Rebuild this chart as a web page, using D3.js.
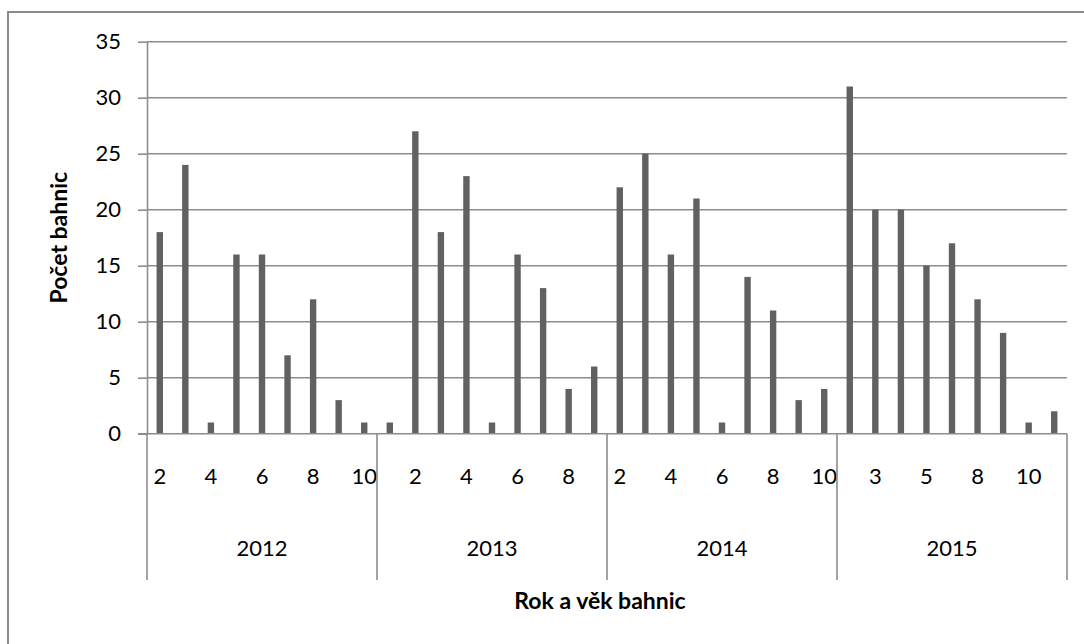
<!DOCTYPE html>
<html>
<head>
<meta charset="utf-8">
<script src="https://cdn.jsdelivr.net/npm/d3@7"></script>
<style>
  html, body { margin: 0; padding: 0; background: #fff; overflow: hidden; }
  svg { display: block; font-family: Lato, "Open Sans", "Noto Sans", sans-serif; }
</style>
</head>
<body>
<svg id="chart" width="1084" height="644"></svg>
<script>
// Počet bahnic podle roku a věku
const years = ["2012", "2013", "2014", "2015"];
const ages2012 = [2, 3, 4, 5, 6, 7, 8, 9, 10];
const ages2013 = [1, 2, 3, 4, 5, 6, 7, 8, 9];
const ages2014 = [2, 3, 4, 5, 6, 7, 8, 9, 10];
const ages2015 = [2, 3, 4, 5, 6, 8, 9, 10, 11];
const counts2012 = [18, 24, 1, 16, 16, 7, 12, 3, 1];
const counts2013 = [1, 27, 18, 23, 1, 16, 13, 4, 6];
const counts2014 = [22, 25, 16, 21, 1, 14, 11, 3, 4];
const counts2015 = [31, 20, 20, 15, 17, 12, 9, 1, 2];
const yTicks = [0, 5, 10, 15, 20, 25, 30, 35];

const agesByYear = [ages2012, ages2013, ages2014, ages2015];
const countsByYear = [counts2012, counts2013, counts2014, counts2015];

const rows = [];
years.forEach((yr, i) => {
  agesByYear[i].forEach((age, j) => {
    rows.push({ key: yr + "-" + age, year: yr, age: age, value: countsByYear[i][j] });
  });
});

const svg = d3.select("#chart");
const plotLeft = 147, plotRight = 1067, plotTop = 41.7, plotBottom = 433.7;
const axisColor = "#8c8c8c";
const barColor = "#616161";

// chart area frame
svg.append("rect")
  .attr("x", 8).attr("y", 12)
  .attr("width", 1200).attr("height", 800)
  .attr("fill", "none").attr("stroke", "#8a8a8a").attr("stroke-width", 2);

const x = d3.scaleBand()
  .domain(rows.map(d => d.key))
  .range([plotLeft, plotRight])
  .paddingInner(0.75)
  .paddingOuter(0.375);

const xYear = d3.scaleBand().domain(years).range([plotLeft, plotRight]).padding(0);

const y = d3.scaleLinear().domain([0, 35]).range([plotBottom, plotTop]);

// horizontal gridlines
svg.append("g")
  .selectAll("line")
  .data(yTicks.filter(t => t > 0))
  .join("line")
  .attr("x1", plotLeft).attr("x2", plotRight)
  .attr("y1", d => y(d)).attr("y2", d => y(d))
  .attr("stroke", axisColor).attr("stroke-width", 1.6);

// value axis
const yAxis = svg.append("g")
  .attr("transform", `translate(${plotLeft},0)`)
  .call(d3.axisLeft(y).tickValues(yTicks).tickSize(9).tickPadding(17).tickSizeOuter(0));
yAxis.select(".domain").attr("stroke", axisColor).attr("stroke-width", 1.6);
yAxis.selectAll(".tick line").attr("stroke", axisColor).attr("stroke-width", 1.6);
yAxis.selectAll(".tick text")
  .attr("fill", "#000").attr("font-size", 22).attr("font-family", "Lato, sans-serif");

// bars
svg.append("g")
  .selectAll("rect")
  .data(rows)
  .join("rect")
  .attr("x", d => x(d.key))
  .attr("width", x.bandwidth())
  .attr("y", d => y(d.value))
  .attr("height", d => y(0) - y(d.value))
  .attr("fill", barColor);

// category axis: ages, every other label shown
const keys = x.domain();
const xAxis = svg.append("g")
  .attr("transform", `translate(0,${plotBottom})`)
  .call(d3.axisBottom(x)
    .tickSize(0)
    .tickFormat((k) => {
      const i = keys.indexOf(k);
      return i % 2 === 0 ? k.split("-")[1] : "";
    }));
xAxis.select(".domain").remove();
svg.append("line")
  .attr("x1", 138).attr("x2", plotRight)
  .attr("y1", plotBottom).attr("y2", plotBottom)
  .attr("stroke", axisColor).attr("stroke-width", 1.6);
xAxis.selectAll(".tick text")
  .attr("y", 43).attr("dy", "0.35em")
  .attr("fill", "#000").attr("font-size", 22).attr("font-family", "Lato, sans-serif");

// year group separators
const sepX = years.map(yr => xYear(yr)).concat([plotRight]);
svg.append("g")
  .selectAll("line")
  .data(sepX)
  .join("line")
  .attr("x1", d => d).attr("x2", d => d)
  .attr("y1", plotBottom).attr("y2", 580)
  .attr("stroke", axisColor).attr("stroke-width", 1.6);

// year labels
svg.append("g")
  .selectAll("text")
  .data(years)
  .join("text")
  .attr("x", d => xYear(d) + xYear.bandwidth() / 2)
  .attr("y", 548)
  .attr("dy", "0.35em")
  .attr("text-anchor", "middle")
  .attr("font-size", 22)
  .attr("fill", "#000")
  .text(d => d);

// axis titles
svg.append("text")
  .attr("x", 600).attr("y", 601).attr("dy", "0.35em")
  .attr("text-anchor", "middle")
  .attr("font-size", 23).attr("font-weight", "bold").attr("fill", "#000")
  .text("Rok a věk bahnic");

svg.append("text")
  .attr("transform", `translate(59,${(plotTop + plotBottom) / 2}) rotate(-90)`)
  .attr("dy", "0.35em")
  .attr("text-anchor", "middle")
  .attr("font-size", 23).attr("font-weight", "bold").attr("fill", "#000")
  .text("Počet bahnic");
</script>
</body>
</html>
